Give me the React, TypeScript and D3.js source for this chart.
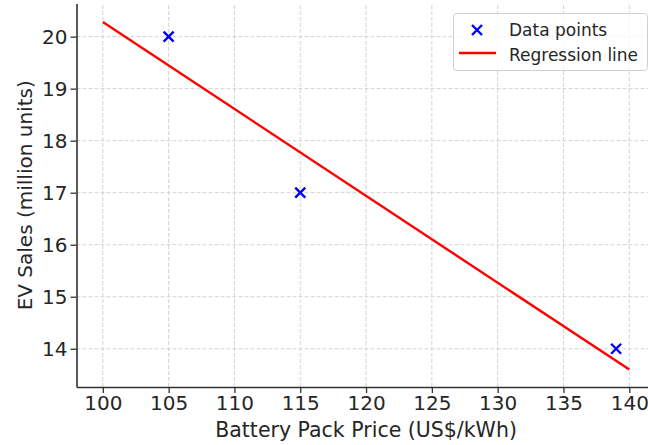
import React, { useEffect, useRef } from "react";
import * as d3 from "d3";

// data
const prices = [105, 115, 139];
const sales = [20, 17, 14];
const lineX = [100, 140];
const lineY = [20.28, 13.6];
const xTicks = [100, 105, 110, 115, 120, 125, 130, 135, 140];
const yTicks = [14, 15, 16, 17, 18, 19, 20];

const width = 648;
const height = 445;
const font = "'DejaVu Sans', sans-serif";

const App = () => {
  const ref = useRef<SVGSVGElement>(null);

  useEffect(() => {
    const svg = d3.select(ref.current);
    svg.selectAll("*").remove();

    const x = d3.scaleLinear().domain([98, 142]).range([76.5, 655.6]);
    const y = d3.scaleLinear().domain([13.265, 20.635]).range([387, 3.6]);

    // grid
    const grid = svg.append("g");
    grid
      .selectAll("line.gx")
      .data(xTicks)
      .join("line")
      .attr("x1", (d) => x(d))
      .attr("x2", (d) => x(d))
      .attr("y1", y.range()[0])
      .attr("y2", y.range()[1])
      .style("stroke", "#cfcfcf")
      .style("stroke-width", 0.9)
      .style("stroke-dasharray", "4,2");
    grid
      .selectAll("line.gy")
      .data(yTicks)
      .join("line")
      .attr("x1", x.range()[0])
      .attr("x2", x.range()[1])
      .attr("y1", (d) => y(d))
      .attr("y2", (d) => y(d))
      .style("stroke", "#cfcfcf")
      .style("stroke-width", 0.9)
      .style("stroke-dasharray", "4,2");

    // axes
    const xAxis = d3.axisBottom(x).tickValues(xTicks).tickSize(6).tickPadding(3).tickSizeOuter(0);
    const yAxis = d3.axisLeft(y).tickValues(yTicks).tickSize(6).tickPadding(3).tickSizeOuter(0);

    const gx = svg.append("g").attr("transform", `translate(0, ${y.range()[0]})`).call(xAxis);
    const gy = svg.append("g").attr("transform", `translate(${x.range()[0]}, 0)`).call(yAxis);

    [gx, gy].forEach((g) => {
      g.selectAll("path").style("stroke", "#333").style("stroke-width", 1.6);
      g.selectAll("line").style("stroke", "#333").style("stroke-width", 1.3);
      g.selectAll("text")
        .style("font-family", font)
        .style("font-size", "20px")
        .style("fill", "#262626");
    });

    svg
      .append("text")
      .attr("x", (x.range()[0] + x.range()[1]) / 2)
      .attr("y", 437)
      .attr("text-anchor", "middle")
      .style("font-family", font)
      .style("font-size", "20.5px")
      .style("fill", "#262626")
      .text("Battery Pack Price (US$/kWh)");

    svg
      .append("text")
      .attr("transform", `translate(32, ${(y.range()[0] + y.range()[1]) / 2}) rotate(-90)`)
      .attr("text-anchor", "middle")
      .style("font-family", font)
      .style("font-size", "20px")
      .style("fill", "#262626")
      .text("EV Sales (million units)");

    // regression line
    const line = d3
      .line<number>()
      .x((d) => x(d))
      .y((d, i) => y(lineY[i]));
    svg
      .append("path")
      .attr("d", line(lineX))
      .style("fill", "none")
      .style("stroke", "#ff0000")
      .style("stroke-width", 2.4);

    // scatter x markers
    const s = 5;
    const marks = svg
      .selectAll("g.pt")
      .data(prices)
      .join("g")
      .attr("transform", (d, i) => `translate(${x(d)}, ${y(sales[i])})`);
    marks
      .append("path")
      .attr("d", `M${-s},${-s}L${s},${s}M${-s},${s}L${s},${-s}`)
      .style("stroke", "#0000ff")
      .style("stroke-width", 2.4);

    // legend
    const lg = svg.append("g");
    lg.append("rect")
      .attr("x", 453.5)
      .attr("y", 13.5)
      .attr("width", 194)
      .attr("height", 57)
      .attr("rx", 3)
      .style("fill", "white")
      .style("fill-opacity", 0.8)
      .style("stroke", "#d0d0d0");
    lg.append("path")
      .attr("d", `M${477 - s},${30 - s}L${477 + s},${30 + s}M${477 - s},${30 + s}L${477 + s},${30 - s}`)
      .style("stroke", "#0000ff")
      .style("stroke-width", 2.4);
    lg.append("line")
      .attr("x1", 459)
      .attr("x2", 496)
      .attr("y1", 53)
      .attr("y2", 53)
      .style("stroke", "#ff0000")
      .style("stroke-width", 2.4);
    const labels = ["Data points", "Regression line"];
    lg.selectAll("text")
      .data(labels)
      .join("text")
      .attr("x", 509)
      .attr("y", (d, i) => 35.5 + i * 25)
      .style("font-family", font)
      .style("font-size", "17px")
      .style("fill", "#262626")
      .text((d) => d);
  }, []);

  return (
    <svg
      ref={ref}
      width={width}
      height={height}
      style={{ position: "absolute", left: 0, top: 0, background: "white" }}
    />
  );
};

export default App;
